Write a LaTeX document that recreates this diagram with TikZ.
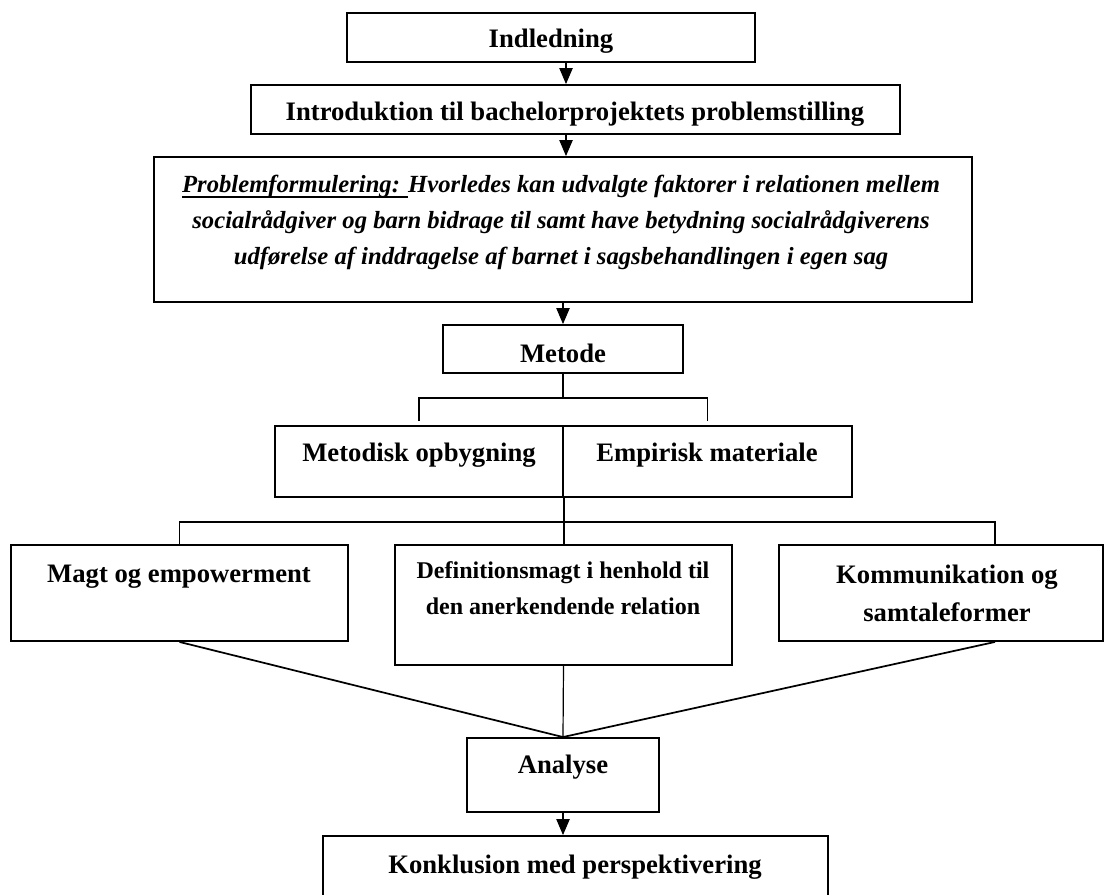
\documentclass[tikz,border=0pt]{standalone}
\usepackage{fontspec}
\setmainfont{Liberation Serif}
\usetikzlibrary{arrows.meta}
\newcommand\bx[5]{\node[box, minimum width={(#4-#2)*0.75pt}, minimum height={(#5-#3)*0.75pt}] (#1) at ({(#2+#4)/2},{(#3+#5)/2}) {};}
\newcommand\myul[1]{\setbox0\hbox{#1}\rlap{\rule[-3.6pt]{\wd0}{1.5pt}}\box0\relax}
\begin{document}
\begin{tikzpicture}[x=0.75pt,y=-0.75pt,
  box/.style={draw, line width=1.4pt, inner sep=0pt},
  lbl/.style={anchor=base, inner sep=0pt, font=\bfseries\fontsize{20}{24}\selectfont},
  slbl/.style={lbl, font=\bfseries\fontsize{18}{22}\selectfont},
  plbl/.style={lbl, font=\bfseries\itshape\fontsize{18.5}{22}\selectfont},
  conn/.style={line width=0.9pt},
  arr/.style={conn, -{Triangle[length=12pt,width=10pt]}},
  diag/.style={line width=1.3pt}]
\useasboundingbox (0,0) rectangle (1104,895);
\clip (0,0) rectangle (1104,895);
% boxes
\bx{ind}{347}{13}{755}{62}
\bx{intro}{251}{85}{900}{134}
\bx{prob}{154}{157}{972}{302}
\bx{met}{443}{325}{683}{373}
\bx{mo}{275}{426}{563}{497}
\bx{em}{563}{426}{852}{497}
\bx{magt}{11}{545}{348}{641}
\bx{def}{395}{545}{732}{665}
\bx{kom}{779}{545}{1103}{641}
\bx{ana}{467}{738}{659}{812}
\bx{konk}{323}{836}{828}{915}
% helper coordinates
\coordinate (ax1) at (566,0);
\coordinate (cx) at (563,0);
\coordinate (br) at (563,398);
\coordinate (kb) at (995,522);
% connectors
\draw[arr] (ind.south -| ax1) -- (intro.north -| ax1);
\draw[arr] (intro.south -| ax1) -- (prob.north -| ax1);
\draw[arr] (prob.south -| cx) -- (met.north -| cx);
\draw[conn] (met.south -| cx) -- (br);
\draw[conn] ([yshift=3pt]mo.north) |- (br) -| ([yshift=3pt]em.north);
\draw[conn] (mo.south east) -- (def.north -| mo.south east);
\draw[conn] (magt.north) |- (kb) -- (kom.north -| kb);
\draw[diag] (magt.south) -- (ana.north);
\draw[diag] (kom.south -| kb) -- (ana.north);
\draw[conn] (def.south) -- (ana.north);
\draw[arr] (ana.south) -- (konk.north -| ana.south);
% texts
\node[lbl] (tind) at (551,48) {Indledning};
\node[lbl] (tintro) at (575,121) {Introduktion til bachelorprojektets problemstilling};
\node[plbl] (tp1) at (561,193) {\myul{Problemformulering: }Hvorledes kan udvalgte faktorer i relationen mellem};
\node[plbl] (tp2) at (561,229) {socialrådgiver og barn bidrage til samt have betydning socialrådgiverens};
\node[plbl] (tp3) at (561,265) {udførelse af inddragelse af barnet i sagsbehandlingen i egen sag};
\node[lbl] (tmet) at (563,362) {Metode};
\node[lbl] (tmo) at (419,461) {Metodisk opbygning};
\node[lbl] (tem) at (707,461) {Empirisk materiale};
\node[lbl] (tmagt) at (179,582) {Magt og empowerment};
\node[slbl] (td1) at (563,578) {Definitionsmagt i henhold til};
\node[slbl] (td2) at (563,614) {den anerkendende relation};
\node[lbl] (tk1) at (947,583) {Kommunikation og};
\node[lbl] (tk2) at (947,621) {samtaleformer};
\node[lbl] (tana) at (563,773) {Analyse};
\node[lbl] (tkonk) at (575,873) {Konklusion med perspektivering};
\end{tikzpicture}
\end{document}
